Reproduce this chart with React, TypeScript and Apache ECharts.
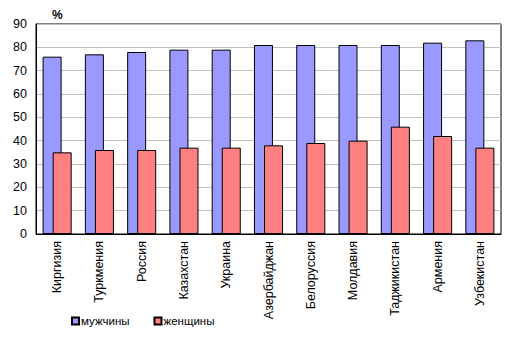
import React, { useEffect, useRef } from "react";
import * as echarts from "echarts";

const categories = ["Киргизия", "Туркмения", "Россия", "Казахстан", "Украина", "Азербайджан", "Белоруссия", "Молдавия", "Таджикистан", "Армения", "Узбекистан"];
const men = [76, 77, 78, 79, 79, 81, 81, 81, 81, 82, 83];
const women = [35, 36, 36, 37, 37, 38, 39, 40, 46, 42, 37];
const seriesNames = ["мужчины", "женщины"];

export default function App() {
  const ref = useRef<HTMLDivElement>(null);
  useEffect(() => {
    const chart = echarts.init(ref.current!, null, { renderer: "svg" });
    const font = "Arial, 'Liberation Sans', sans-serif";
    chart.setOption({
      animation: false,
      textStyle: { fontFamily: font },
      grid: { left: 36, top: 24, width: 465, height: 210, show: true, borderColor: "#000", borderWidth: 1, backgroundColor: "transparent" },
      graphic: [
        { type: "text", left: 52, top: 9, style: { text: "%", fontSize: 12, fontWeight: "bold", fill: "#000", fontFamily: font } },
      ],
      legend: {
        data: seriesNames,
        bottom: 19,
        left: 66,
        itemWidth: 7,
        itemHeight: 7,
        itemGap: 24,
        icon: "rect",
        textStyle: { fontSize: 11.5, color: "#000", fontFamily: font, padding: [0, 0, 0, -3] },
      },
      xAxis: {
        type: "category",
        data: categories,
        axisLine: { lineStyle: { color: "#000" } },
        axisTick: { show: false },
        axisLabel: { rotate: 90, fontSize: 12.5, color: "#000", interval: 0, margin: 7 },
      },
      yAxis: {
        type: "value",
        min: 0,
        max: 90,
        interval: 10,
        axisLine: { show: true, lineStyle: { color: "#000" } },
        axisTick: { show: false },
        axisLabel: { fontSize: 12.5, color: "#000", margin: 9 },
        splitLine: { lineStyle: { color: "#C0C0C0" } },
      },
      series: [
        { name: seriesNames[0], type: "bar", data: men, barWidth: 19, barGap: "-47%", itemStyle: { color: "#9999FF", borderColor: "#000", borderWidth: 1 } },
        { name: seriesNames[1], type: "bar", data: women, barWidth: 19, itemStyle: { color: "#FF8080", borderColor: "#000", borderWidth: 1 } },
      ],
    });
    return () => chart.dispose();
  }, []);
  return <div ref={ref} style={{ position: "fixed", left: 0, top: 0, width: 518, height: 351, background: "#fff" }} />;
}
